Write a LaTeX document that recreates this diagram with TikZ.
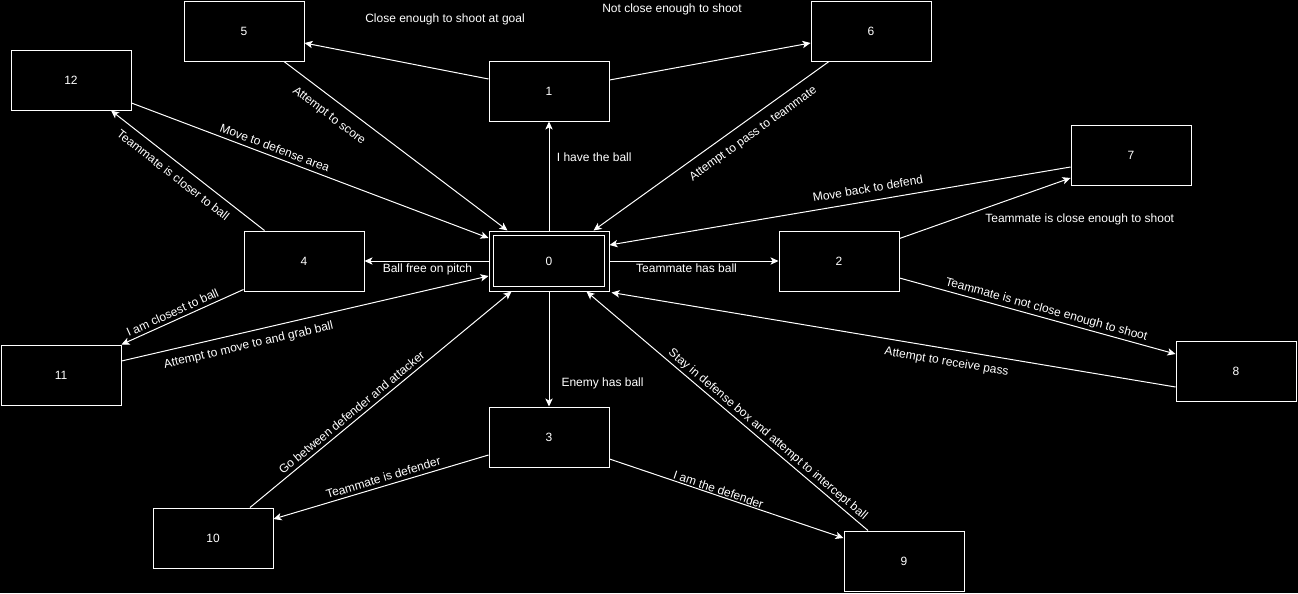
\documentclass[tikz,border=0pt]{standalone}
\usepackage{fontspec}
\setmainfont{Liberation Sans}
\usetikzlibrary{arrows.meta}
\begin{document}
\begin{tikzpicture}[x=0.75pt,y=-0.75pt,
  every node/.style={font=\fontsize{9}{10}\selectfont, text=white},
  state/.style={draw=white, line width=0.75pt, minimum width=90pt, minimum height=45pt, inner sep=0pt},
  conn/.style={draw=white, line width=0.75pt, -{Stealth[length=6pt,width=5.5pt,inset=1.5pt]}},
  lbl/.style={inner sep=0pt, sloped},
  hlbl/.style={inner sep=0pt}
]
\fill[black] (0,0) rectangle (1298,593);
\useasboundingbox (0,0) rectangle (1298,593);

% states
\node[state] (n0) at (549,261) {0};
\draw[white, line width=0.75pt] ([shift={(5,5)}]n0.north west) rectangle ([shift={(-5,-5)}]n0.south east);
\node[state] (n1) at (549,91) {1};
\node[state] (n2) at (839,261) {2};
\node[state] (n3) at (549,437) {3};
\node[state] (n4) at (304,261) {4};
\node[state] (n5) at (244,31) {5};
\node[state] (n6) at (871,31) {6};
\node[state] (n7) at (1131,155) {7};
\node[state] (n8) at (1236,371) {8};
\node[state] (n9) at (904,561) {9};
\node[state] (n10) at (213,538) {10};
\node[state] (n11) at (61,375) {11};
\node[state] (n12) at (71,80) {12};

% connectors
\draw[conn] (n0.north) -- (n1.south) node[hlbl, pos=0.673, right=5.5pt] {I have the ball};
\draw[conn] ([shift={(0,-12)}]n1.west) -- ([shift={(0,12)}]n5.east);
\draw[conn] ([shift={(0,-11)}]n1.east) -- ([shift={(0,12)}]n6.west);
\node (lclose) at (445,19) {Close enough to shoot at goal};
\node (lnot) at (672,9) {Not close enough to shoot};

\draw[conn] ([shift={(40,0)}]n5.south) -- ([shift={(19,0)}]n0.north west)
  node[lbl, pos=0.245, below=8pt] {Attempt to score};
\draw[conn] ([shift={(-42,0)}]n6.south) -- ([shift={(-16,0)}]n0.north east)
  node[lbl, pos=0.358, below=6.8pt] {Attempt to pass to teammate};
\draw[conn] ([shift={(0,23)}]n12.east) -- ([shift={(0,-23)}]n0.west)
  node[lbl, pos=0.393, above=3pt] {Move to defense area};
\draw[conn] ([shift={(21,0)}]n4.north west) -- ([shift={(40,0)}]n12.south)
  node[lbl, pos=0.544, below=5.7pt] {Teammate is closer to ball};
\draw[conn] (n0.west) -- (n4.east) node[hlbl, pos=0.492, below=1.8pt] {Ball free on pitch};
\draw[conn] ([shift={(0,-2)}]n4.south west) -- (n11.north east)
  node[lbl, pos=0.555, above=2.5pt] {I am closest to ball};
\draw[conn] ([shift={(0,-14)}]n11.east) -- ([shift={(0,15)}]n0.west)
  node[lbl, pos=0.338, below=5.7pt] {Attempt to move to and grab ball};

\draw[conn] (n0.east) -- (n2.west) node[hlbl, pos=0.456, below=1.8pt] {Teammate has ball};
\draw[conn] ([shift={(0,12)}]n7.west) -- ([shift={(0,-16)}]n0.east)
  node[lbl, pos=0.435, above=5.9pt] {Move back to defend};
\draw[conn] ([shift={(0,8)}]n2.north east) -- ([shift={(0,23)}]n7.west);
\node (lteamclose) at (1079.7,219) {Teammate is close enough to shoot};
\draw[conn] ([shift={(0,17)}]n2.east) -- ([shift={(0,-17)}]n8.west)
  node[lbl, pos=0.524, above=1.6pt] {Teammate is not close enough to shoot};
\draw[conn] ([shift={(0,16)}]n8.west) -- ([shift={(2,1)}]n0.south east)
  node[lbl, pos=0.402, below=5.5pt] {Attempt to receive pass};

\draw[conn] (n0.south) -- (n3.north) node[hlbl, pos=0.796, right=9pt] {Enemy has ball};
\draw[conn] ([shift={(0,18)}]n3.west) -- ([shift={(0,-19)}]n10.east)
  node[lbl, pos=0.478, above=2.6pt] {Teammate is defender};
\draw[conn] ([shift={(0,22)}]n3.east) -- ([shift={(0,-23)}]n9.west)
  node[lbl, pos=0.458, above=0.8pt] {I am the defender};
\draw[conn] ([shift={(37,0)}]n10.north) -- ([shift={(23,0)}]n0.south west)
  node[lbl, pos=0.409, above=2.7pt] {Go between defender and attacker};
\draw[conn] ([shift={(-36,0)}]n9.north) -- ([shift={(-23,0)}]n0.south east)
  node[lbl, pos=0.375, above=1.6pt] {Stay in defense box and attempt to intercept ball};
\end{tikzpicture}
\end{document}
